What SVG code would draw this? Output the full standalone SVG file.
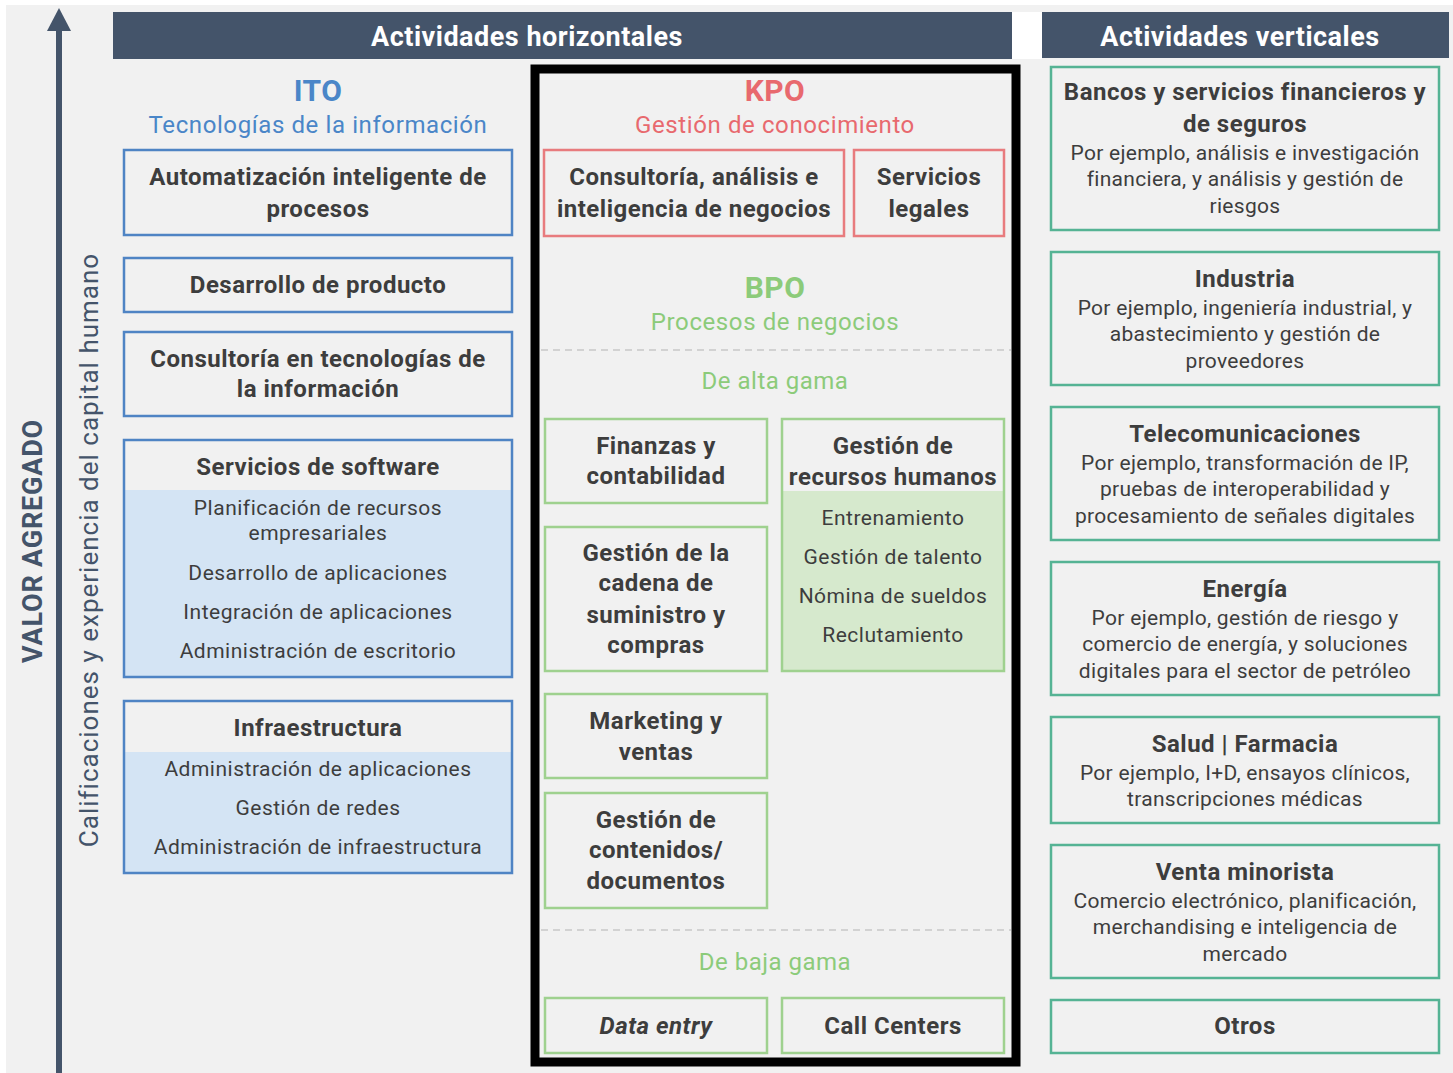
<svg xmlns="http://www.w3.org/2000/svg" width="1453" height="1073" viewBox="0 0 1453 1073">
<style>
text{font-family:Roboto,"Liberation Sans",Arial,sans-serif;text-anchor:middle;fill:#3d3d3d}
.hd{font-weight:bold;font-size:27px;letter-spacing:0.5px;fill:#ffffff}
.b{font-weight:bold;font-size:24px;letter-spacing:0.5px}
.s{font-size:21px;letter-spacing:0.3px}
.vs{font-size:21px;letter-spacing:0.5px}
.ttl{font-weight:bold;font-size:30px;letter-spacing:0.5px}
.sub{font-size:24px;letter-spacing:0.6px}
.gama{font-size:24px;letter-spacing:0.5px}
.ito{fill:#4a86c8}
.kpo{fill:#e8696e}
.bpo{fill:#8ccb7a}
.blue{fill:#f1f1f1;stroke:#4f84c4;stroke-width:2.5}
.red{fill:#f1f1f1;stroke:#e87b7e;stroke-width:2.5}
.grn{fill:#f1f1f1;stroke:#9fd18f;stroke-width:2.5}
.teal{fill:#f1f1f1;stroke:#55b394;stroke-width:2.5}
.dash{stroke:#d2d2d2;stroke-width:2;stroke-dasharray:7 5}
</style>
<rect x="0" y="0" width="1453" height="1073" fill="#ffffff"/>
<rect x="6" y="5" width="1447" height="1068" fill="#f1f1f1"/>
<rect x="1012" y="12" width="30" height="47" fill="#ffffff"/>

<g id="headers">
<rect x="113" y="12" width="899" height="47" fill="#44546a"/>
<text class="hd" x="527" y="46">Actividades horizontales</text>
<rect x="1042" y="12" width="407" height="46" fill="#44546a"/>
<text class="hd" x="1240" y="46">Actividades verticales</text>
</g>

<g id="connectors">
<line x1="59" y1="26" x2="59" y2="1073" stroke="#44546a" stroke-width="6"/>
<polygon points="59,8 71,31 47,31" fill="#44546a"/>
</g>

<g id="axis-labels">
<text transform="translate(42,541) rotate(-90)" style="font-weight:bold;font-size:27px;letter-spacing:0.8px;fill:#44546a">VALOR AGREGADO</text>
<text transform="translate(98,550) rotate(-90)" style="font-size:26px;letter-spacing:1px;fill:#44546a">Calificaciones y experiencia del capital humano</text>
</g>

<g id="ito">
<text class="ito ttl" x="318" y="101">ITO</text>
<text class="ito sub" x="318" y="133">Tecnologías de la información</text>
</g>
<g id="ito-automatizacion">
<rect class="blue" x="124" y="150" width="388" height="85"/>
<text class="b" x="318" y="185">Automatización inteligente de</text>
<text class="b" x="318" y="217">procesos</text>
</g>
<g id="ito-desarrollo">
<rect class="blue" x="124" y="258" width="388" height="54"/>
<text class="b" x="318" y="293">Desarrollo de producto</text>
</g>
<g id="ito-consultoria">
<rect class="blue" x="124" y="332" width="388" height="84"/>
<text class="b" x="318" y="367">Consultoría en tecnologías de</text>
<text class="b" x="318" y="397">la información</text>
</g>
<g id="ito-software">
<rect x="124" y="490" width="388" height="187" fill="#d4e4f4"/>
<rect x="124" y="440" width="388" height="237" fill="none" stroke="#4f84c4" stroke-width="2.5"/>
<text class="b" x="318" y="475">Servicios de software</text>
<text class="vs" x="318" y="515">Planificación de recursos</text>
<text class="vs" x="318" y="540">empresariales</text>
<text class="vs" x="318" y="580">Desarrollo de aplicaciones</text>
<text class="vs" x="318" y="619">Integración de aplicaciones</text>
<text class="vs" x="318" y="658">Administración de escritorio</text>
</g>
<g id="ito-infraestructura">
<rect x="124" y="752" width="388" height="121" fill="#d4e4f4"/>
<rect x="124" y="701" width="388" height="172" fill="none" stroke="#4f84c4" stroke-width="2.5"/>
<text class="b" x="318" y="736">Infraestructura</text>
<text class="vs" x="318" y="776">Administración de aplicaciones</text>
<text class="vs" x="318" y="815">Gestión de redes</text>
<text class="vs" x="318" y="854">Administración de infraestructura</text>
</g>

<g id="kpo-frame">
<rect x="535" y="69" width="481" height="993" fill="none" stroke="#000000" stroke-width="9"/>
</g>
<g id="kpo">
<text class="kpo ttl" x="775" y="101">KPO</text>
<text class="kpo sub" x="775" y="133">Gestión de conocimiento</text>
</g>
<g id="kpo-consultoria">
<rect class="red" x="544" y="150" width="300" height="86"/>
<text class="b" x="694" y="185">Consultoría, análisis e</text>
<text class="b" x="694" y="217">inteligencia de negocios</text>
</g>
<g id="kpo-legales">
<rect class="red" x="854" y="150" width="150" height="86"/>
<text class="b" x="929" y="185">Servicios</text>
<text class="b" x="929" y="217">legales</text>
</g>

<g id="bpo">
<text class="bpo ttl" x="775" y="298">BPO</text>
<text class="bpo sub" x="775" y="330">Procesos de negocios</text>
<line class="dash" x1="541" y1="350" x2="1011" y2="350"/>
<text class="bpo gama" x="775" y="389">De alta gama</text>
<line class="dash" x1="541" y1="930" x2="1011" y2="930"/>
<text class="bpo gama" x="775" y="970">De baja gama</text>
</g>
<g id="bpo-finanzas">
<rect class="grn" x="545" y="419" width="222" height="84"/>
<text class="b" x="656" y="454">Finanzas y</text>
<text class="b" x="656" y="484">contabilidad</text>
</g>
<g id="bpo-rrhh">
<rect x="782" y="491" width="222" height="180" fill="#d6e9cd"/>
<rect x="782" y="419" width="222" height="252" fill="none" stroke="#9fd18f" stroke-width="2.5"/>
<text class="b" x="893" y="454">Gestión de</text>
<text class="b" x="893" y="485">recursos humanos</text>
<text class="vs" x="893" y="525">Entrenamiento</text>
<text class="vs" x="893" y="564">Gestión de talento</text>
<text class="vs" x="893" y="603">Nómina de sueldos</text>
<text class="vs" x="893" y="642">Reclutamiento</text>
</g>
<g id="bpo-cadena">
<rect class="grn" x="545" y="527" width="222" height="144"/>
<text class="b" x="656" y="561">Gestión de la</text>
<text class="b" x="656" y="591">cadena de</text>
<text class="b" x="656" y="623">suministro y</text>
<text class="b" x="656" y="653">compras</text>
</g>
<g id="bpo-marketing">
<rect class="grn" x="545" y="694" width="222" height="84"/>
<text class="b" x="656" y="729">Marketing y</text>
<text class="b" x="656" y="760">ventas</text>
</g>
<g id="bpo-contenidos">
<rect class="grn" x="545" y="793" width="222" height="115"/>
<text class="b" x="656" y="828">Gestión de</text>
<text class="b" x="656" y="858">contenidos/</text>
<text class="b" x="656" y="889">documentos</text>
</g>
<g id="bpo-dataentry">
<rect class="grn" x="545" y="998" width="222" height="55"/>
<text class="b" x="656" y="1034" style="font-style:italic">Data entry</text>
</g>
<g id="bpo-callcenters">
<rect class="grn" x="782" y="998" width="222" height="55"/>
<text class="b" x="893" y="1034">Call Centers</text>
</g>

<g id="v-bancos">
<rect class="teal" x="1051" y="67" width="388" height="163"/>
<text class="b" x="1245" y="100">Bancos y servicios financieros y</text>
<text class="b" x="1245" y="132">de seguros</text>
<text class="s" x="1245" y="160">Por ejemplo, análisis e investigación</text>
<text class="s" x="1245" y="186">financiera, y análisis y gestión de</text>
<text class="s" x="1245" y="213">riesgos</text>
</g>
<g id="v-industria">
<rect class="teal" x="1051" y="252" width="388" height="133"/>
<text class="b" x="1245" y="287">Industria</text>
<text class="s" x="1245" y="315">Por ejemplo, ingeniería industrial, y</text>
<text class="s" x="1245" y="341">abastecimiento y gestión de</text>
<text class="s" x="1245" y="368">proveedores</text>
</g>
<g id="v-telecom">
<rect class="teal" x="1051" y="407" width="388" height="133"/>
<text class="b" x="1245" y="442">Telecomunicaciones</text>
<text class="s" x="1245" y="470">Por ejemplo, transformación de IP,</text>
<text class="s" x="1245" y="496">pruebas de interoperabilidad y</text>
<text class="s" x="1245" y="523">procesamiento de señales digitales</text>
</g>
<g id="v-energia">
<rect class="teal" x="1051" y="562" width="388" height="133"/>
<text class="b" x="1245" y="597">Energía</text>
<text class="s" x="1245" y="625">Por ejemplo, gestión de riesgo y</text>
<text class="s" x="1245" y="651">comercio de energía, y soluciones</text>
<text class="s" x="1245" y="678">digitales para el sector de petróleo</text>
</g>
<g id="v-salud">
<rect class="teal" x="1051" y="717" width="388" height="106"/>
<text class="b" x="1245" y="752">Salud | Farmacia</text>
<text class="s" x="1245" y="780">Por ejemplo, I+D, ensayos clínicos,</text>
<text class="s" x="1245" y="806">transcripciones médicas</text>
</g>
<g id="v-venta">
<rect class="teal" x="1051" y="845" width="388" height="133"/>
<text class="b" x="1245" y="880">Venta minorista</text>
<text class="s" x="1245" y="908">Comercio electrónico, planificación,</text>
<text class="s" x="1245" y="934">merchandising e inteligencia de</text>
<text class="s" x="1245" y="961">mercado</text>
</g>
<g id="v-otros">
<rect class="teal" x="1051" y="1000" width="388" height="53"/>
<text class="b" x="1245" y="1034">Otros</text>
</g>
</svg>
